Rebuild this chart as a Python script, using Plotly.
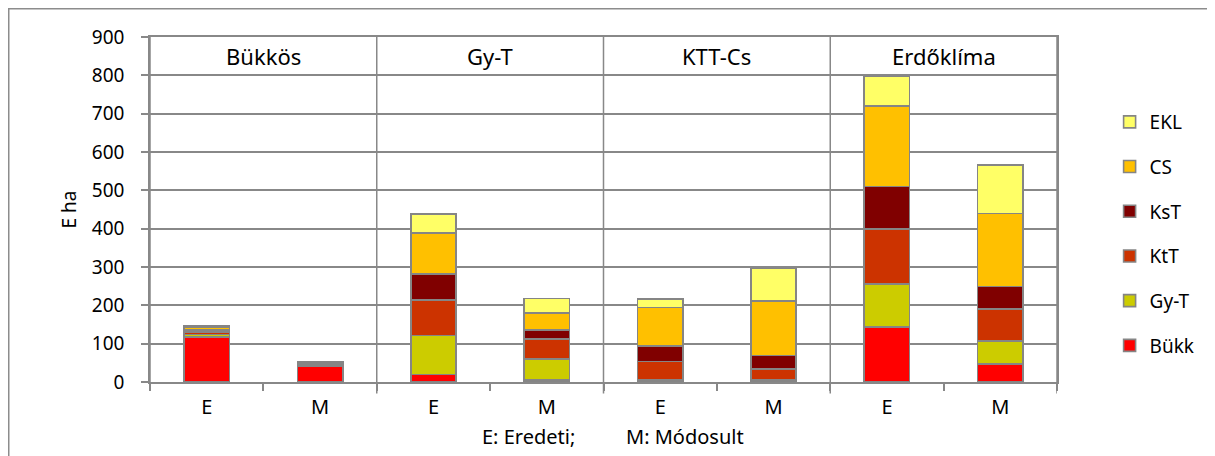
import plotly.graph_objects as go

groups = ["Bükkös", "Gy-T", "KTT-Cs", "Erdőklíma"]
subs = ["E", "M"]
categories = [f"{g} {s}" for g in groups for s in subs]
tick_labels = [s for g in groups for s in subs]

series_names = ["Bükk", "Gy-T", "KtT", "KsT", "CS", "EKL"]
bukk = [118, 40, 20, 5, 1, 2, 143, 47]
gyt = [6, 3, 101, 55, 5, 3, 112, 60]
ktt = [6, 3, 93, 52, 47, 29, 144, 83]
kst = [6, 3, 68, 24, 41, 35, 111, 59]
cs = [6, 2, 106, 44, 100, 143, 210, 191]
ekl = [4, 2, 50, 38, 22, 84, 77, 126]
series_values = [bukk, gyt, ktt, kst, cs, ekl]
colors = ["#FF0000", "#CCCC00", "#CC3300", "#800000", "#FFC000", "#FFFF66"]

y_title = "E ha"
x_title_left = "E: Eredeti;"
x_title_right = "M: Módosult"

FONT = "Noto Sans"
GRID = "#888888"

# page body has an 8px margin: figure is drawn from page (8, 8)
PW, PH = 907, 345  # plot area size
L, T = 142, 29

fig = go.Figure()
n = len(series_names)
for i, (name, vals, col) in enumerate(zip(series_names, series_values, colors)):
    fig.add_trace(go.Bar(
        x=categories, y=vals, name=name, legendgroup=name, legendrank=n - i,
        marker=dict(color=col, line=dict(color="#858585", width=1.6)),
    ))

shapes = []
for xb in [1.5, 3.5, 5.5, 7.5]:
    shapes.append(dict(type="line", xref="x", yref="paper", x0=xb, x1=xb,
                       y0=-0.033, y1=1, line=dict(color=GRID, width=1.5)))
shapes.append(dict(type="line", xref="x", yref="paper", x0=-0.5, x1=-0.5,
                   y0=-0.02, y1=1, line=dict(color=GRID, width=1.5)))
shapes.append(dict(type="rect", xref="paper", yref="paper",
                   x0=(8.75 - 150) / PW, x1=1.3, y0=-0.5, y1=(382 - 8.75) / PH,
                   line=dict(color="#8c8c8c", width=1.5), fillcolor="rgba(0,0,0,0)"))

annotations = []
for i, g in enumerate(groups):
    annotations.append(dict(text=g, x=2 * i + 0.5, y=850, xref="x", yref="y",
                            showarrow=False, font=dict(family=FONT, size=22, color="black")))
annotations.append(dict(text=y_title, x=(68 - 150) / PW, y=0.5, xref="paper", yref="paper",
                        textangle=-90, showarrow=False, xanchor="center", yanchor="middle",
                        font=dict(family=FONT, size=19, color="black")))
annotations.append(dict(text=x_title_left, x=(528 - 150) / PW, y=-(436 - 382) / PH,
                        xref="paper", yref="paper", showarrow=False,
                        xanchor="center", yanchor="middle",
                        font=dict(family=FONT, size=20, color="black")))
annotations.append(dict(text=x_title_right, x=(624 - 150) / PW, y=-(436 - 382) / PH,
                        xref="paper", yref="paper", showarrow=False,
                        xanchor="left", yanchor="middle",
                        font=dict(family=FONT, size=20, color="black")))

fig.update_layout(
    width=1207, height=448,
    barmode="stack", bargap=0.6,
    margin=dict(l=L, r=1207 - L - PW, t=T, b=448 - T - PH),
    paper_bgcolor="white", plot_bgcolor="white",
    font=dict(family=FONT, color="black"),
    showlegend=True,
    legend=dict(x=1.058, y=(382 - 103) / PH, xanchor="left", yanchor="top",
                traceorder="grouped", tracegroupgap=17,
                font=dict(family=FONT, size=19, color="black"),
                bgcolor="rgba(0,0,0,0)"),
    shapes=shapes, annotations=annotations,
)
fig.update_xaxes(
    type="category", categoryorder="array", categoryarray=categories,
    tickmode="array", tickvals=categories, ticktext=tick_labels,
    tickson="boundaries", ticks="outside", ticklen=7, tickcolor=GRID, tickwidth=1.5,
    ticklabelstandoff=6,
    showline=True, linecolor=GRID, linewidth=1.5, mirror=True,
    showgrid=False, range=[-0.5, 7.5],
    tickfont=dict(family=FONT, size=20, color="black"),
)
fig.update_yaxes(
    range=[0, 900], dtick=100, tick0=0,
    showgrid=True, gridcolor=GRID, gridwidth=1.5,
    ticks="outside", ticklen=7, tickcolor=GRID, tickwidth=1.5,
    ticklabelstandoff=13,
    showline=True, linecolor=GRID, linewidth=1.5, mirror=True,
    zeroline=False,
    tickfont=dict(family=FONT, size=19, color="black"),
)

fig.write_html("out.html")
